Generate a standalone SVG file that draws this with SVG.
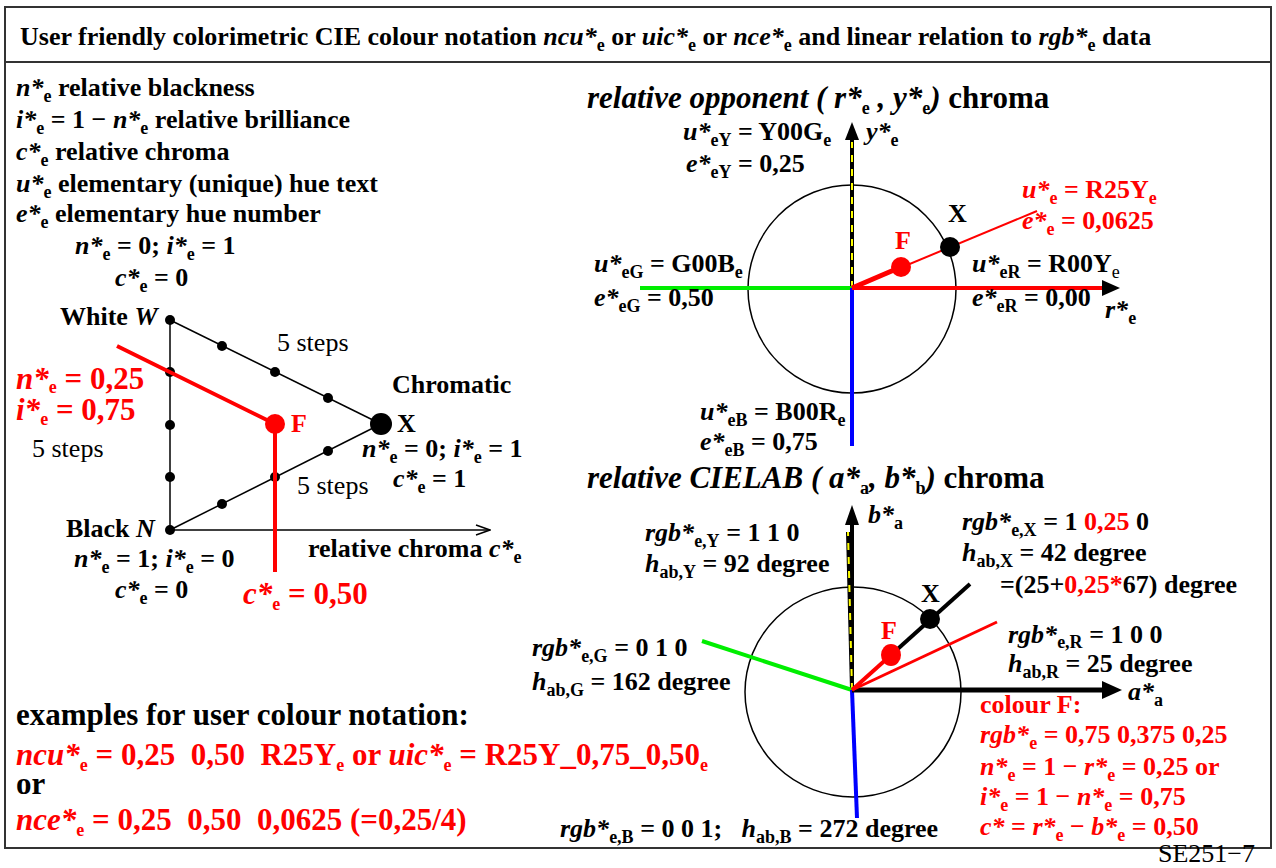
<svg xmlns="http://www.w3.org/2000/svg" width="1276" height="868" viewBox="0 0 1276 868">
<style>
text { font-family: "Liberation Serif", "Times New Roman", serif; font-weight: bold; font-size: 26px; fill: #000; }
.i { font-style: italic; }
.n { font-style: normal; }
.r { fill: #ff0000; }
.s { font-size: 18px; font-style: normal; }
.big { font-size: 31px; }
.h { font-size: 31px; }
.reg { font-weight: normal; }
.ln { stroke: #000; stroke-width: 1.5; fill: none; }
.dot { fill: #000; }
</style>
<defs>
<marker id="open" markerWidth="16" markerHeight="12" refX="15" refY="6" orient="auto" markerUnits="userSpaceOnUse">
<path d="M1,1 L15,6 L1,11" fill="none" stroke="#000" stroke-width="1.5"/>
</marker>
</defs>
<rect width="1276" height="868" fill="#fff"/>
<rect x="5" y="7" width="1266" height="841" fill="none" stroke="#333" stroke-width="2"/>
<line x1="5" y1="62" x2="1271" y2="62" stroke="#333" stroke-width="2"/>

<g id="title">
<text x="20" y="45" font-size="27">User friendly colorimetric CIE colour notation <tspan class="i">ncu*</tspan><tspan class="s" dy="6">e</tspan><tspan dy="-6"> or </tspan><tspan class="i">uic*</tspan><tspan class="s" dy="6">e</tspan><tspan dy="-6"> or </tspan><tspan class="i">nce*</tspan><tspan class="s" dy="6">e</tspan><tspan dy="-6"> and linear relation to </tspan><tspan class="i">rgb*</tspan><tspan class="s" dy="6">e</tspan><tspan dy="-6"> data</tspan></text>
</g>

<g id="legend">
<text x="16" y="96"><tspan class="i">n*</tspan><tspan class="s" dy="6">e</tspan><tspan dy="-6"> relative blackness</tspan></text>
<text x="16" y="128"><tspan class="i">i*</tspan><tspan class="s" dy="6">e</tspan><tspan dy="-6"> = 1 − </tspan><tspan class="i">n*</tspan><tspan class="s" dy="6">e</tspan><tspan dy="-6"> relative brilliance</tspan></text>
<text x="16" y="160"><tspan class="i">c*</tspan><tspan class="s" dy="6">e</tspan><tspan dy="-6"> relative chroma</tspan></text>
<text x="16" y="192"><tspan class="i">u*</tspan><tspan class="s" dy="6">e</tspan><tspan dy="-6"> elementary (unique) hue text</tspan></text>
<text x="16" y="222"><tspan class="i">e*</tspan><tspan class="s" dy="6">e</tspan><tspan dy="-6"> elementary hue number</tspan></text>
<text x="75" y="254"><tspan class="i">n*</tspan><tspan class="s" dy="6">e</tspan><tspan dy="-6"> = 0; </tspan><tspan class="i">i*</tspan><tspan class="s" dy="6">e</tspan><tspan dy="-6"> = 1</tspan></text>
<text x="115" y="286"><tspan class="i">c*</tspan><tspan class="s" dy="6">e</tspan><tspan dy="-6"> = 0</tspan></text>
</g>

<g id="triangle">
<g id="edges">
<line class="ln" x1="170" y1="320" x2="170" y2="530"/>
<line class="ln" x1="170" y1="320" x2="381" y2="424"/>
<line class="ln" x1="170" y1="530" x2="381" y2="424"/>
<line class="ln" x1="170" y1="530" x2="490" y2="530" marker-end="url(#open)"/>
</g>
<g id="steps">
<circle class="dot" cx="170" cy="320" r="5"/>
<circle class="dot" cx="170" cy="372" r="5"/>
<circle class="dot" cx="170" cy="425" r="5"/>
<circle class="dot" cx="170" cy="477" r="5"/>
<circle class="dot" cx="170" cy="530" r="5"/>
<circle class="dot" cx="222" cy="346" r="5"/>
<circle class="dot" cx="275" cy="372" r="5"/>
<circle class="dot" cx="328" cy="398" r="5"/>
<circle class="dot" cx="222" cy="504" r="5"/>
<circle class="dot" cx="275" cy="477" r="5"/>
<circle class="dot" cx="328" cy="451" r="5"/>
</g>
<g id="node-X1"><circle cx="381" cy="424" r="11" fill="#000"/>
<text x="397" y="432">X</text></g>
<g id="node-F1">
<polyline points="117,346 275,424 275,572" fill="none" stroke="#ff0000" stroke-width="4"/>
<circle cx="275" cy="424" r="10" fill="#ff0000"/>
<text class="r" x="291" y="432">F</text></g>
<text x="60" y="325">White <tspan class="i">W</tspan></text>
<text class="reg" x="277" y="351">5 steps</text>
<text class="reg" x="32" y="457">5 steps</text>
<text class="reg" x="297" y="494">5 steps</text>
<text x="392" y="393">Chromatic</text>
<text x="362" y="457"><tspan class="i">n*</tspan><tspan class="s" dy="6">e</tspan><tspan dy="-6"> = 0; </tspan><tspan class="i">i*</tspan><tspan class="s" dy="6">e</tspan><tspan dy="-6"> = 1</tspan></text>
<text x="393" y="487"><tspan class="i">c*</tspan><tspan class="s" dy="6">e</tspan><tspan dy="-6"> = 1</tspan></text>
<text x="66" y="537">Black <tspan class="i">N</tspan></text>
<text x="74" y="567"><tspan class="i">n*</tspan><tspan class="s" dy="6">e</tspan><tspan dy="-6"> = 1; </tspan><tspan class="i">i*</tspan><tspan class="s" dy="6">e</tspan><tspan dy="-6"> = 0</tspan></text>
<text x="115" y="598"><tspan class="i">c*</tspan><tspan class="s" dy="6">e</tspan><tspan dy="-6"> = 0</tspan></text>
<text x="308" y="557">relative chroma <tspan class="i">c*</tspan><tspan class="s" dy="6">e</tspan></text>
<text class="r big" x="16" y="389"><tspan class="i">n*</tspan><tspan class="s" font-size="21" dy="4">e</tspan><tspan dy="-4"> = 0,25</tspan></text>
<text class="r big" x="16" y="420"><tspan class="i">i*</tspan><tspan class="s" font-size="21" dy="5">e</tspan><tspan dy="-5"> = 0,75</tspan></text>
<text class="r big" x="243" y="604"><tspan class="i">c*</tspan><tspan class="s" font-size="21" dy="6">e</tspan><tspan dy="-6"> = 0,50</tspan></text>
</g>

<g id="opponent-chart">
<text class="h i" x="587" y="108">relative opponent ( r*<tspan class="s" font-size="21" dy="6">e</tspan><tspan dy="-6"> , y*</tspan><tspan class="s" font-size="21" dy="6">e</tspan><tspan dy="-6">) </tspan><tspan class="n">chroma</tspan></text>
<g id="connectors-opp">
<ellipse cx="852" cy="289" rx="104" ry="104" fill="none" stroke="#000" stroke-width="1.5"/>
<line x1="852" y1="288" x2="852" y2="138" stroke="#000" stroke-width="4"/>
<line x1="852" y1="288" x2="852" y2="142" stroke="#ffff00" stroke-width="2" stroke-dasharray="7 7"/>
<polygon points="852,122 845,140 859,140" fill="#000"/>
<line x1="640" y1="288" x2="852" y2="288" stroke="#00ee00" stroke-width="4"/>
<line x1="852" y1="288" x2="852" y2="446" stroke="#0000ff" stroke-width="4"/>
<line x1="852" y1="288" x2="1105" y2="288" stroke="#ff0000" stroke-width="4"/>
<polygon points="1120,288 1102,280 1102,296" fill="#000"/>
<line x1="852" y1="288" x2="1037" y2="211" stroke="#ff0000" stroke-width="2"/>
<line x1="852" y1="288" x2="901" y2="267" stroke="#ff0000" stroke-width="5"/>
</g>
<g id="node-F2"><circle cx="901" cy="267" r="10" fill="#ff0000"/><text class="r" x="895" y="249">F</text></g>
<g id="node-X2"><circle cx="950" cy="247" r="10" fill="#000"/><text x="948" y="222">X</text></g>
<text x="683" y="140"><tspan class="i">u*</tspan><tspan class="s" dy="6">eY</tspan><tspan dy="-6"> = Y00G</tspan><tspan class="s" dy="6">e</tspan></text>
<text class="i" x="866" y="140">y*<tspan class="s" dy="6">e</tspan></text>
<text x="686" y="172"><tspan class="i">e*</tspan><tspan class="s" dy="6">eY</tspan><tspan dy="-6"> = 0,25</tspan></text>
<text class="r" x="1022" y="198"><tspan class="i">u*</tspan><tspan class="s" dy="6">e</tspan><tspan dy="-6"> = R25Y</tspan><tspan class="s" dy="6">e</tspan></text>
<text class="r" x="1022" y="229"><tspan class="i">e*</tspan><tspan class="s" dy="6">e</tspan><tspan dy="-6"> = 0,0625</tspan></text>
<text x="594" y="272"><tspan class="i">u*</tspan><tspan class="s" dy="6">eG</tspan><tspan dy="-6"> = G00B</tspan><tspan class="s" dy="6">e</tspan></text>
<text x="594" y="306"><tspan class="i">e*</tspan><tspan class="s" dy="6">eG</tspan><tspan dy="-6"> = 0,50</tspan></text>
<text x="972" y="272"><tspan class="i">u*</tspan><tspan class="s" dy="6">eR</tspan><tspan dy="-6"> = R00Y</tspan><tspan class="s reg" dy="6">e</tspan></text>
<text x="972" y="306"><tspan class="i">e*</tspan><tspan class="s" dy="6">eR</tspan><tspan dy="-6"> = 0,00</tspan></text>
<text class="i" x="1105" y="318">r*<tspan class="s" dy="6">e</tspan></text>
<text x="700" y="420"><tspan class="i">u*</tspan><tspan class="s" dy="6">eB</tspan><tspan dy="-6"> = B00R</tspan><tspan class="s" dy="6">e</tspan></text>
<text x="700" y="450"><tspan class="i">e*</tspan><tspan class="s" dy="6">eB</tspan><tspan dy="-6"> = 0,75</tspan></text>
</g>

<g id="cielab-chart">
<text class="h i" x="587" y="488">relative CIELAB ( a*<tspan class="s" font-size="21" dy="6">a</tspan><tspan dy="-6">, b*</tspan><tspan class="s" font-size="21" dy="6">b</tspan><tspan dy="-6">) </tspan><tspan class="n">chroma</tspan></text>
<g id="connectors-lab">
<ellipse cx="853" cy="692" rx="108" ry="105" fill="none" stroke="#000" stroke-width="1.5"/>
<line x1="852" y1="690" x2="852" y2="524" stroke="#000" stroke-width="4"/>
<polygon points="852,505 845,525 859,525" fill="#000"/>
<line x1="852" y1="690" x2="848" y2="532" stroke="#000" stroke-width="4"/>
<line x1="852" y1="690" x2="848" y2="532" stroke="#ffff00" stroke-width="2" stroke-dasharray="7 7"/>
<line x1="852" y1="690" x2="702" y2="641" stroke="#00ee00" stroke-width="4"/>
<line x1="852" y1="690" x2="857" y2="818" stroke="#0000ff" stroke-width="4"/>
<line x1="852" y1="690" x2="1105" y2="690" stroke="#000" stroke-width="5"/>
<polygon points="1122,690 1102,681 1102,699" fill="#000"/>
<line x1="852" y1="690" x2="997" y2="622" stroke="#ff0000" stroke-width="3"/>
<line x1="891" y1="655" x2="970" y2="584" stroke="#000" stroke-width="4"/>
<line x1="852" y1="690" x2="891" y2="655" stroke="#ff0000" stroke-width="4"/>
</g>
<g id="node-F3"><ellipse cx="891" cy="655" rx="10" ry="11" fill="#ff0000"/><text class="r" x="881" y="639">F</text></g>
<g id="node-X3"><circle cx="930" cy="619" r="10" fill="#000"/><text x="921" y="602">X</text></g>
<text x="645" y="541"><tspan class="i">rgb*</tspan><tspan class="s" dy="6">e,Y</tspan><tspan dy="-6"> = 1 1 0</tspan></text>
<text x="645" y="572"><tspan class="i">h</tspan><tspan class="s" dy="6">ab,Y</tspan><tspan dy="-6"> = 92 degree</tspan></text>
<text class="i" x="868" y="523">b*<tspan class="s" dy="6">a</tspan></text>
<text x="962" y="530"><tspan class="i">rgb*</tspan><tspan class="s" dy="6">e,X</tspan><tspan dy="-6"> = 1 </tspan><tspan class="r">0,25</tspan><tspan> 0</tspan></text>
<text x="962" y="561"><tspan class="i">h</tspan><tspan class="s" dy="6">ab,X</tspan><tspan dy="-6"> = 42 degree</tspan></text>
<text x="1000" y="593">=(25+<tspan class="r">0,25*</tspan>67) degree</text>
<text x="1008" y="643"><tspan class="i">rgb*</tspan><tspan class="s" dy="5">e,R</tspan><tspan dy="-5"> = 1 0 0</tspan></text>
<text x="1008" y="672"><tspan class="i">h</tspan><tspan class="s" dy="6">ab,R</tspan><tspan dy="-6"> = 25 degree</tspan></text>
<text x="532" y="656"><tspan class="i">rgb*</tspan><tspan class="s" dy="6">e,G</tspan><tspan dy="-6"> = 0 1 0</tspan></text>
<text x="532" y="690"><tspan class="i">h</tspan><tspan class="s" dy="6">ab,G</tspan><tspan dy="-6"> = 162 degree</tspan></text>
<text class="i" x="1128" y="700">a*<tspan class="s" dy="6">a</tspan></text>
<text x="560" y="837"><tspan class="i">rgb*</tspan><tspan class="s" dy="6">e,B</tspan><tspan dy="-6" xml:space="preserve"> = 0 0 1;   </tspan><tspan class="i">h</tspan><tspan class="s" dy="6">ab,B</tspan><tspan dy="-6"> = 272 degree</tspan></text>
<text class="r" x="980" y="713">colour F:</text>
<text class="r" x="980" y="743"><tspan class="i">rgb*</tspan><tspan class="s" dy="6">e</tspan><tspan dy="-6"> = 0,75 0,375 0,25</tspan></text>
<text class="r" x="980" y="775"><tspan class="i">n*</tspan><tspan class="s" dy="6">e</tspan><tspan dy="-6"> = 1 − </tspan><tspan class="i">r*</tspan><tspan class="s" dy="6">e</tspan><tspan dy="-6"> = 0,25 or</tspan></text>
<text class="r" x="980" y="805"><tspan class="i">i*</tspan><tspan class="s" dy="6">e</tspan><tspan dy="-6"> = 1 − </tspan><tspan class="i">n*</tspan><tspan class="s" dy="6">e</tspan><tspan dy="-6"> = 0,75</tspan></text>
<text class="r" x="980" y="835"><tspan class="i">c*</tspan><tspan> = </tspan><tspan class="i">r*</tspan><tspan class="s" dy="6">e</tspan><tspan dy="-6"> − </tspan><tspan class="i">b*</tspan><tspan class="s" dy="6">e</tspan><tspan dy="-6"> = 0,50</tspan></text>
</g>

<g id="examples">
<text class="h" x="16" y="725">examples for user colour notation:</text>
<text class="h r" x="16" y="765" xml:space="preserve"><tspan class="i">ncu*</tspan><tspan class="s" font-size="21" dy="6">e</tspan><tspan dy="-6"> = 0,25  0,50  R25Y</tspan><tspan class="s" font-size="21" dy="6">e</tspan><tspan dy="-6"> or </tspan><tspan class="i">uic*</tspan><tspan class="s" font-size="21" dy="6">e</tspan><tspan dy="-6"> = R25Y_0,75_0,50</tspan><tspan class="s" font-size="21" dy="6">e</tspan></text>
<text class="h" x="16" y="794">or</text>
<text class="h r" x="16" y="830" xml:space="preserve"><tspan class="i">nce*</tspan><tspan class="s" font-size="21" dy="6">e</tspan><tspan dy="-6"> = 0,25  0,50  0,0625 (=0,25/4)</tspan></text>
</g>

<text class="reg" x="1158" y="862" font-size="14">SE251−7</text>
</svg>
